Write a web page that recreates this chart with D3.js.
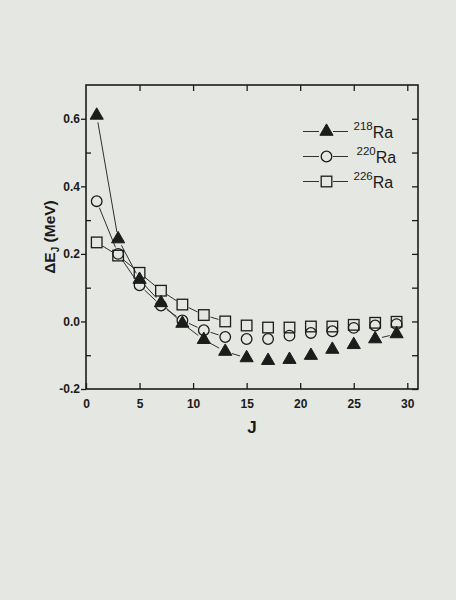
<!DOCTYPE html>
<html>
<head>
<meta charset="utf-8">
<script src="https://cdn.jsdelivr.net/npm/d3@7"></script>
<style>
  body { margin: 0; background: #e5e7e2; }
  svg { display: block; }
  text { font-family: "Liberation Sans", Arial, sans-serif; fill: #1a1a1a; }
</style>
</head>
<body>
<svg id="chart" width="456" height="600"></svg>
<script>
// spin values J
const spins = [1, 3, 5, 7, 9, 11, 13, 15, 17, 19, 21, 23, 25, 27, 29];

const ra218 = [0.61, 0.244, 0.124, 0.055, -0.006, -0.054, -0.089, -0.108, -0.116, -0.113, -0.101, -0.083, -0.069, -0.052, -0.037];
const ra220 = [0.356, 0.2, 0.107, 0.047, 0.003, -0.026, -0.046, -0.052, -0.052, -0.042, -0.034, -0.029, -0.019, -0.012, -0.008];
const ra226 = [0.234, 0.195, 0.144, 0.091, 0.05, 0.019, 0.0, -0.012, -0.018, -0.018, -0.015, -0.015, -0.01, -0.004, -0.001];

const xTicks = [0, 5, 10, 15, 20, 25, 30];
const yTicks = [-0.2, 0.0, 0.2, 0.4, 0.6];
const yMinor = [-0.1, 0.1, 0.3, 0.5];

const series = [
    { name: "218", values: ra218, shape: "triangle", lastLine: 7, extra: [13, 14] },
    { name: "220", values: ra220, shape: "circle", lastLine: 6, extra: null },
    { name: "226", values: ra226, shape: "square", lastLine: 6, extra: null }
];

const pl = 86, pr = 418, pt = 85, pb = 389;
const ink = "#1c1c1c";

const svg = d3.select("#chart");

const x = d3.scaleLinear().domain([0, 31]).range([pl, pr]);
const y = d3.scaleLinear().domain([-0.2, 0.7]).range([pb, pt]);

// frame
svg.append("rect")
    .attr("x", pl).attr("y", pt)
    .attr("width", pr - pl).attr("height", pb - pt)
    .attr("fill", "none").attr("stroke", ink).attr("stroke-width", 1.6);

const fmt = d => d3.format(".1f")(d).replace("−", "-");

// bottom axis: ticks inward
const xb = svg.append("g").attr("transform", `translate(0,${pb})`)
    .call(d3.axisBottom(x).tickValues(xTicks).tickSizeInner(-6).tickSizeOuter(0).tickPadding(10));
xb.select(".domain").remove();
xb.selectAll("text").attr("font-size", 12).attr("font-weight", "bold");

const xt = svg.append("g").attr("transform", `translate(0,${pt})`)
    .call(d3.axisTop(x).tickValues(xTicks.slice(1)).tickSizeInner(-6).tickSizeOuter(0).tickFormat(""));
xt.select(".domain").remove();

// left axis: majors outward, minors inward
const yl = svg.append("g").attr("transform", `translate(${pl},0)`)
    .call(d3.axisLeft(y).tickValues(yTicks).tickSizeInner(5).tickSizeOuter(0).tickPadding(1).tickFormat(fmt));
yl.select(".domain").remove();
yl.selectAll("text").attr("font-size", 12).attr("font-weight", "bold");

const ylm = svg.append("g").attr("transform", `translate(${pl},0)`)
    .call(d3.axisLeft(y).tickValues(yMinor).tickSizeInner(-5).tickSizeOuter(0).tickFormat(""));
ylm.select(".domain").remove();

// right axis: all ticks inward
const yr = svg.append("g").attr("transform", `translate(${pr},0)`)
    .call(d3.axisRight(y).tickValues(yTicks.concat(yMinor)).tickSizeInner(-6).tickSizeOuter(0).tickFormat(""));
yr.select(".domain").remove();

svg.selectAll(".tick line").attr("stroke", ink).attr("stroke-width", 1.3);

// axis titles
svg.append("text")
    .attr("x", x(15.5)).attr("y", 433)
    .attr("text-anchor", "middle")
    .attr("font-size", 17).attr("font-weight", "bold")
    .text("J");

const yt = svg.append("text")
    .attr("transform", `translate(55,${(pt + pb) / 2}) rotate(-90)`)
    .attr("text-anchor", "middle")
    .attr("font-size", 15.5).attr("font-weight", "bold");
yt.append("tspan").text("ΔE");
yt.append("tspan").attr("font-size", 10).attr("dy", 4).text("J");
yt.append("tspan").attr("dy", -4).text(" (MeV)");

// markers
function drawMarker(g, shape, cx, cy) {
    if (shape === "triangle") {
        g.append("path")
            .attr("d", d3.symbol(d3.symbolTriangle, 75)())
            .attr("transform", `translate(${cx},${cy})`)
            .attr("fill", ink).attr("stroke", ink).attr("stroke-width", 1);
    } else if (shape === "circle") {
        g.append("circle")
            .attr("cx", cx).attr("cy", cy).attr("r", 5.3)
            .attr("fill", "none").attr("stroke", ink).attr("stroke-width", 1.3);
    } else {
        g.append("rect")
            .attr("x", cx - 5.3).attr("y", cy - 5.3)
            .attr("width", 10.6).attr("height", 10.6)
            .attr("fill", "none").attr("stroke", ink).attr("stroke-width", 1.3);
    }
}

// segment between two points with a gap around markers
function gapSegment(g, p, q, gap) {
    const dx = q[0] - p[0], dy = q[1] - p[1];
    const len = Math.hypot(dx, dy);
    if (len <= 2 * gap) return;
    const ux = dx / len, uy = dy / len;
    g.append("line")
        .attr("x1", p[0] + ux * gap).attr("y1", p[1] + uy * gap)
        .attr("x2", q[0] - ux * gap).attr("y2", q[1] - uy * gap)
        .attr("stroke", ink).attr("stroke-width", 0.9);
}

const plot = svg.append("g");

series.forEach(s => {
    const pts = spins.map((j, i) => [x(j), y(s.values[i])]);
    for (let i = 0; i < s.lastLine; i++) gapSegment(plot, pts[i], pts[i + 1], 7);
    if (s.extra) gapSegment(plot, pts[s.extra[0]], pts[s.extra[1]], 7);
});

series.forEach(s => {
    spins.forEach((j, i) => drawMarker(plot, s.shape, x(j), y(s.values[i])));
});

// legend
const legRows = [131.5, 156.5, 181.5];
series.forEach((s, i) => {
    const ly = legRows[i];
    const g = svg.append("g");
    g.append("line").attr("x1", 303).attr("x2", 348).attr("y1", ly).attr("y2", ly)
        .attr("stroke", ink).attr("stroke-width", 0.9);
    g.append("rect").attr("x", 319).attr("y", ly - 6).attr("width", 14).attr("height", 12)
        .attr("fill", "#e5e7e2");
    drawMarker(g, s.shape, 326.5, ly);
    const t = g.append("text").attr("x", i === 1 ? 356.5 : 353.5).attr("y", ly + 6.5)
        .attr("font-size", 16);
    t.append("tspan").attr("font-size", 11.5).attr("dy", -8).text(s.name);
    t.append("tspan").attr("dy", 8).text("Ra");
});
</script>
</body>
</html>
